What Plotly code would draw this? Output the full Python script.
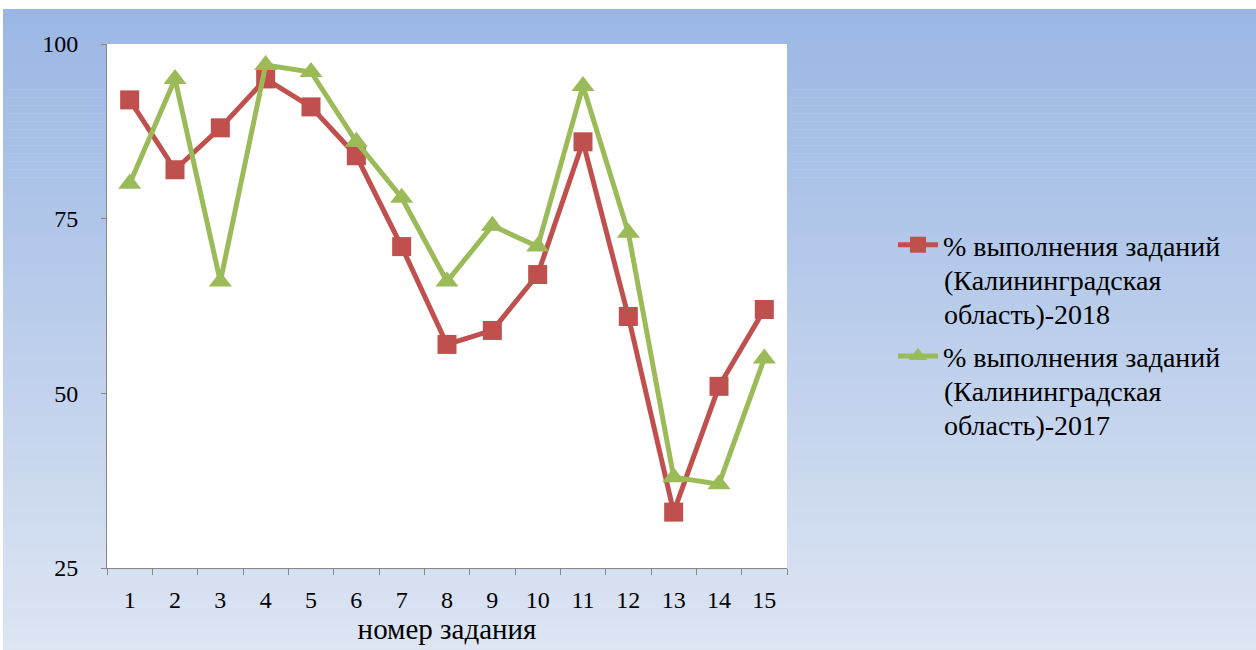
import plotly.graph_objects as go

# Task numbers and completion percentages
tasks = [str(i) for i in range(1, 16)]
pct_2018 = [92, 82, 88, 95, 91, 84, 71, 57, 59, 67, 86, 61, 33, 51, 62]
pct_2017 = [80, 95, 66, 97, 96, 86, 78, 66, 74, 71, 94, 73, 38, 37, 55]

# Series labels, one list item per printed line
label_2018 = ["% выполнения заданий", "(Калининградская", "область)-2018"]
label_2017 = ["% выполнения заданий", "(Калининградская", "область)-2017"]

W, H = 1256, 650
L, R, T, B = 107, 469, 44, 82
pw, ph = W - L - R, H - T - B

def px_to_paper_x(px):
    return (px - L) / pw

def px_to_paper_y(py):
    return (H - B - py) / ph

serif = "Liberation Serif"
legend_size = 28

fig = go.Figure()

fig.add_trace(go.Scatter(
    x=tasks, y=pct_2018, name=label_2018[0], legendgroup="s2018",
    mode="lines+markers",
    line=dict(color="#C0504D", width=5),
    marker=dict(symbol="square", size=19, color="#C0504D"),
))
fig.add_trace(go.Scatter(
    x=tasks, y=pct_2017, name=label_2017[0], legendgroup="s2017",
    mode="lines+markers",
    line=dict(color="#9BBB59", width=5),
    marker=dict(symbol="triangle-up", size=20, color="#9BBB59"),
))

# Vertical gradient background behind the whole chart
top_c = (154, 183, 228)
bot_c = (221, 229, 243)
y0, y1 = 9, H
steps = 80
shapes = []
for i in range(steps):
    a = y0 + (y1 - y0) * i / steps
    b = y0 + (y1 - y0) * (i + 1) / steps
    t = (i + 0.5) / steps
    c = tuple(round(top_c[k] + (bot_c[k] - top_c[k]) * t) for k in range(3))
    shapes.append(dict(
        type="rect", xref="paper", yref="paper", layer="below",
        x0=px_to_paper_x(3), x1=px_to_paper_x(W + 2),
        y0=px_to_paper_y(b + 0.6), y1=px_to_paper_y(a),
        fillcolor="rgb(%d,%d,%d)" % c, line=dict(width=0),
    ))
# White plotting area
shapes.append(dict(
    type="rect", xref="x domain", yref="y domain", layer="below",
    x0=0, x1=1, y0=0, y1=1, fillcolor="white", line=dict(width=0),
))

# Continuation lines of the legend labels, set with tighter leading
annotations = []
for lines, centers in ((label_2018, (280, 314)), (label_2017, (391, 425))):
    for text, cy in zip(lines[1:], centers):
        annotations.append(dict(
            text=text, xref="paper", yref="paper",
            x=px_to_paper_x(943), y=px_to_paper_y(cy),
            xanchor="left", yanchor="middle", showarrow=False,
            borderpad=0,
            font=dict(size=legend_size, family=serif, color="black"),
        ))

fig.update_layout(
    width=W, height=H,
    margin=dict(l=L, r=R, t=T, b=B),
    paper_bgcolor="white",
    plot_bgcolor="white",
    shapes=shapes,
    annotations=annotations,
    font=dict(family=serif, color="black"),
    showlegend=True,
    legend=dict(
        x=px_to_paper_x(893), y=px_to_paper_y(220),
        xanchor="left", yanchor="top",
        valign="middle",
        bgcolor="rgba(0,0,0,0)",
        font=dict(size=legend_size, family=serif, color="black"),
        tracegroupgap=72,
        itemwidth=40,
    ),
    xaxis=dict(
        type="category",
        range=[-0.5, 14.5],
        tickson="boundaries",
        ticks="outside", ticklen=6, tickcolor="#868686", tickwidth=1,
        showline=True, linecolor="#868686", linewidth=1,
        showgrid=False, zeroline=False,
        tickfont=dict(size=24, family=serif, color="black"),
        ticklabelstandoff=10,
        title=dict(text="номер задания", font=dict(size=29, family=serif, color="black"), standoff=2),
    ),
    yaxis=dict(
        range=[25, 100], tickvals=[25, 50, 75, 100],
        ticks="outside", ticklen=5, tickcolor="#868686", tickwidth=1,
        showline=True, linecolor="#868686", linewidth=1,
        showgrid=False, zeroline=False,
        tickfont=dict(size=24, family=serif, color="black"),
        ticklabelstandoff=18,
    ),
)

fig.write_html("out.html")
